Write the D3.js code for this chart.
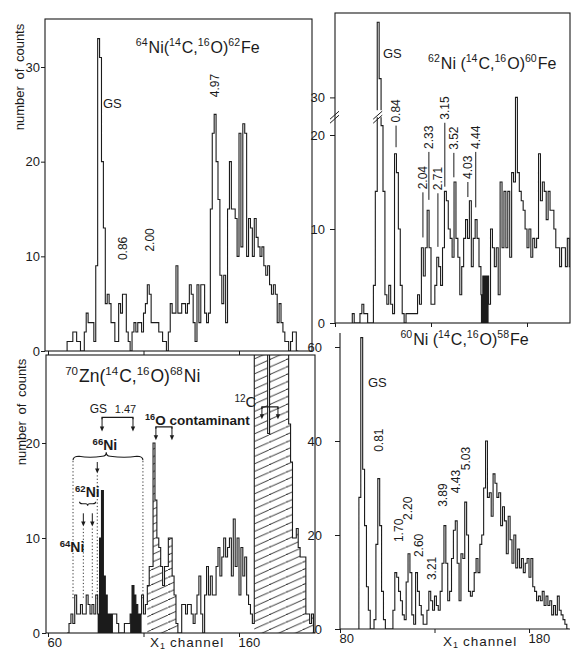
<!DOCTYPE html>
<html lang="en">
<head>
<meta charset="UTF-8">
<title>(14C,16O) spectra</title>
<script src="https://cdn.jsdelivr.net/npm/d3@7"></script>
<style>
  body { margin: 0; background: #fff; }
  svg { display: block; font-family: 'Liberation Sans', Arial, sans-serif; }
  .ink { stroke: #1b1b1b; fill: none; stroke-width: 1.1; }
  text { fill: #1b1b1b; }
  .tick text { font-size: 13px; }
  .tick line { stroke: #1b1b1b; }
</style>
</head>
<body>
<svg id="chart" width="571" height="651"></svg>
<script>
// ---- data: counts per channel ----
const tlStart = 70;
const tlCounts = [1,1,1,2,2,1,1,0,0,2, 4,3,3,3,1,9,33,31,20,13, 5,6,5,3,3,1,1,5,4,6,
  6,2,1,0,2,3,2,3,3,2, 4,5,7,6,3,3,3,3,2,2, 1,1,0,2,5,4,4,9,4,4, 5,5,4,5,7,6,3,1,7,3,
  7,7,4,3,4,15,23,25,20,16, 8,5,8,3,15,20,15,15,14,10, 23,11,24,23,10,14,13,10,14,12,
  11,10,11,9,8,9,7,6,7,6, 3,5,3,2,1,1,0,1,2,2, 0];

const trStart = 89;
const trCounts = [1,0,0,0,1,2,1,1,0,0, 0,4,14,38,32,21,14,3,2,4, 2,1,18,16,10,4,1,0,1,1,
  1,1,1,1,3,2,8,5,8,12, 8,2,2,4,7,6,4,8,14,13, 10,9,7,15,9,7,3,6,9,11,
  9,13,6,9,11,9,6,3,5,5, 5,2,10,8,6,8,3,15,8,14, 8,14,7,16,15,30,16,14,13,12,
  10,8,10,7,9,8,9,18,13,15, 14,11,14,12,12,10,8,8,6,8, 8,6,9,6,8,5];
const trBlack = [[156, 159]];

const blStart = 70;
const blCounts = [0,1,2,1,4,2,2,3,2,2, 4,3,2,3,2,4,2,10,15,6, 4,2,2,2,2,2,1,0,0,0,
  1,1,1,2,5,4,3,2,2,4, 2,3,5,7,7,20,14,10,9,7, 5,7,7,10,10,6,4,1,0,0,
  3,3,2,3,3,2,1,2,4,6, 2,0,4,7,4,6,4,4,7,9, 6,8,10,8,9,10,6,12,7,10,
  4,9,6,8,4,3,2,1,32,34, 36,38,36,38,36,21,36,38,40,38, 36,38,36,34,33,31,22,18,10,10,
  11,9,8,8,8,2,2,1,2,0];
const blBlack = [[86, 93], [103, 108]];
const blHatch = [[112, 127], [168, 198]];

const brStart = 90;
const brCounts = [28,62,34,22,9,4,0,0,2,18, 32,22,8,2,0,0,0,0,4,12, 11,8,6,3,2,10,16,12,3,1,
  12,8,5,3,1,1,4,8,6,4, 7,5,4,8,14,22,14,6,8,15, 21,23,14,6,16,15,27,20,8,7,
  8,12,15,12,18,20,30,40,28,29, 24,33,31,28,29,22,26,23,16,24, 19,14,20,13,17,13,15,12,14,15,
  11,15,9,8,6,7,6,8,5,7, 5,6,3,5,3,7,4,3,2,1, 0];

// titles: [superscript, text]
const tlTitle = [["64", "Ni("], ["14", "C,"], ["16", "O)"], ["62", "Fe"]];
const trTitle = [["62", "Ni ("], ["14", "C,"], ["16", "O)"], ["60", "Fe"]];
const blTitle = [["70", "Zn("], ["14", "C,"], ["16", "O)"], ["68", "Ni"]];
const brTitle = [["60", "Ni ("], ["14", "C,"], ["16", "O)"], ["58", "Fe"]];

// excitation-energy labels: [text, channel, count]
const tlLevels = [["0.86", 99.3, 9.6], ["2.00", 113.4, 10.5], ["4.97", 147.4, 26.8]];
const trLevels = [["0.84", 111.8, 18.7, 21.0], ["2.04", 125.8, 9.1, 13.9], ["2.33", 128.9, 13.1, 18.2],
  ["2.71", 133.6, 8.1, 13.8], ["3.15", 137.2, 14.5, 21.3], ["3.52", 141.9, 15.5, 18.1],
  ["4.03", 149.2, 13.4, 15.0], ["4.44", 153.3, 12.3, 18.2]];
const brLevels = [["0.81", 100.6, 37.7], ["1.70", 111.2, 18.5], ["2.20", 115.7, 23.2], ["2.60", 121.8, 15.3],
  ["3.21", 128.4, 10.4], ["3.89", 134.2, 26], ["4.43", 141.4, 28.9], ["5.03", 146.7, 33.8]];

const svg = d3.select("#chart");
const defs = svg.append("defs");
const ink = "#1b1b1b";

// shallow "/" hatching, about 24 degrees, 7.5px apart vertically
const hw = 16.8, hh = 7.5;
const hatch = defs.append("pattern").attr("id", "hatch")
  .attr("patternUnits", "userSpaceOnUse").attr("width", hw).attr("height", hh);
hatch.append("path")
  .attr("d", `M-2,${hh + 2 * hh / hw}L${hw + 2},${-2 * hh / hw}M${-hw - 2},${hh + (hw + 2) * hh / hw}L2,${-hh * -1 - 2 * hh / hw}`)
  .attr("stroke", ink).attr("stroke-width", 0.9);

function makePanel(id, box, x, y) {
  defs.append("clipPath").attr("id", "clip-" + id).append("rect")
    .attr("x", box[0]).attr("y", box[1]).attr("width", box[2] - box[0]).attr("height", box[3] - box[1]);
  const g = svg.append("g");
  return { g, x, y, box, clip: g.append("g").attr("clip-path", `url(#clip-${id})`) };
}

function points(start, counts, from, to) {
  const pts = [];
  for (let c = from; c <= to; c++) pts.push({ c, v: counts[c - start] });
  pts.push({ c: to + 1, v: counts[to - start] });
  return pts;
}

function drawHist(p, start, counts, black, hatched) {
  const area = d3.area().x(d => p.x(d.c)).y0(p.y(0)).y1(d => p.y(d.v)).curve(d3.curveStepAfter);
  (hatched || []).forEach(r => {
    p.clip.append("path").attr("d", area(points(start, counts, r[0], r[1]))).attr("fill", "url(#hatch)");
  });
  (black || []).forEach(r => {
    p.clip.append("path").attr("d", area(points(start, counts, r[0], r[1]))).attr("fill", ink);
  });
  const end = start + counts.length;
  const pts = [{ c: start, v: 0 }].concat(counts.map((v, i) => ({ c: start + i, v })),
    [{ c: end, v: counts[counts.length - 1] }, { c: end, v: 0 }]);
  const line = d3.line().x(d => p.x(d.c)).y(d => p.y(d.v)).curve(d3.curveStepAfter);
  p.clip.append("path").attr("class", "ink").attr("d", line(pts));
}

function yAxis(p, ticks, size, pad) {
  const a = p.g.append("g").attr("transform", `translate(${p.box[0]},0)`)
    .call(d3.axisLeft(p.y).tickValues(ticks).tickSize(size).tickPadding(pad).tickFormat(d3.format("d")));
  a.select(".domain").remove();
}

function xAxis(p, ticks, labels) {
  const a = p.g.append("g").attr("transform", `translate(0,${p.y(0)})`)
    .call(d3.axisBottom(p.x).tickValues(ticks).tickSize(4).tickPadding(1)
      .tickFormat(d => labels.includes(d) ? d : ""));
  a.select(".domain").remove();
  a.selectAll("text").attr("text-anchor", "start").attr("dx", -1).style("font-size", "13px");
}

function title(p, c, v, parts, size) {
  const t = p.g.append("text").attr("x", p.x(c)).attr("y", p.y(v)).style("font-size", size + "px");
  parts.forEach(([sup, txt]) => {
    t.append("tspan").attr("dy", -size * 0.42).style("font-size", (size * 0.66) + "px").text(sup);
    t.append("tspan").attr("dy", size * 0.42).attr("dx", 1).text(txt);
  });
}

function rotLabel(p, txt, c, v, size) {
  p.g.append("text").attr("transform", `translate(${p.x(c)},${p.y(v)}) rotate(-90)`)
    .attr("dy", "0.36em").style("font-size", (size || 12) + "px").text(txt);
}

function plain(p, txt, c, v, size, anchor) {
  return p.g.append("text").attr("x", p.x(c)).attr("y", p.y(v)).attr("text-anchor", anchor || "start")
    .style("font-size", (size || 13) + "px").text(txt);
}

function supText(p, sup, txt, c, v, size, anchor) {
  const t = plain(p, "", c, v, size, anchor).style("font-weight", "bold");
  t.append("tspan").attr("dy", -5).style("font-size", (size * 0.68) + "px").text(sup);
  t.append("tspan").attr("dy", 5).text(txt);
  return t;
}

function arrow(p, c, v1, v2) {
  const x = p.x(c), y1 = p.y(v1), y2 = p.y(v2);
  p.g.append("line").attr("x1", x).attr("x2", x).attr("y1", y1).attr("y2", y2 - 3)
    .attr("stroke", ink).attr("stroke-width", 1);
  p.g.append("path").attr("d", `M${x - 2.2},${y2 - 5}L${x + 2.2},${y2 - 5}L${x},${y2}Z`).attr("fill", ink);
}

function bracket(p, c0, c1, top, tip, w) {
  p.g.append("path").attr("class", "ink").attr("stroke-width", w || 1)
    .attr("d", `M${p.x(c0)},${p.y(top) + 2}V${p.y(top)}H${p.x(c1)}V${p.y(top) + 2}`);
  arrow(p, c0, top, tip);
  arrow(p, c1, top, tip);
}

function channelLabel(p, c, v) {
  const t = plain(p, "X", c, v, 13.5).style("letter-spacing", "1px");
  t.append("tspan").attr("dy", 2).style("font-size", "9px").text("1");
  t.append("tspan").attr("dy", -2).attr("dx", 4).text("channel");
}

function countsLabel(x, yMid) {
  svg.append("text").attr("transform", `translate(${x},${yMid}) rotate(-90)`)
    .attr("text-anchor", "middle").attr("dy", "0.35em").style("font-size", "13px")
    .style("word-spacing", "3px").text("number of counts");
}

// ---- top left: 64Ni(14C,16O)62Fe ----
const tl = makePanel("tl", [45, 19, 312, 351],
  d3.scaleLinear().domain([60, 160]).range([48, 239]),
  d3.scaleLinear().domain([0, 30]).range([351, 67]));
drawHist(tl, tlStart, tlCounts);
tl.g.append("rect").attr("class", "ink").attr("stroke-width", 1.3)
  .attr("x", 45).attr("y", 19).attr("width", 267).attr("height", 332);
yAxis(tl, [0, 10, 20, 30], 4, 1);
xAxis(tl, [60, 110, 160], []);
title(tl, 106, 31.5, tlTitle, 16);
plain(tl, "GS", 88.8, 25.7, 13);
tlLevels.forEach(d => rotLabel(tl, d[0], d[1], d[2]));
countsLabel(19, 77);

// ---- top right: 62Ni(14C,16O)60Fe, broken y axis ----
const tr = makePanel("tr", [335, 13, 570, 323],
  d3.scaleLinear().domain([80, 180]).range([335, 527]),
  d3.scaleLinear().domain([0, 22, 28, 40]).range([323, 116.2, 116.2, 3.4]));
drawHist(tr, trStart, trCounts, trBlack);
tr.g.append("rect").attr("class", "ink").attr("stroke-width", 1.3)
  .attr("x", 335).attr("y", 13).attr("width", 235).attr("height", 310);
yAxis(tr, [0, 10, 20, 30], 5, 5);
xAxis(tr, [80, 130, 180], []);
// break marks on the axis and on the GS peak
const by = tr.y(22);
tr.g.append("rect").attr("x", tr.x(100.2)).attr("y", by - 6).attr("width", tr.x(104.5) - tr.x(100.2))
  .attr("height", 7).attr("fill", "#fff");
[tr.x(80), tr.x(102.5)].forEach(x0 => {
  [-2, 2].forEach(o => {
    tr.g.append("line").attr("x1", x0 - 5).attr("y1", by + 5 + o).attr("x2", x0 + 4).attr("y2", by - 3 + o)
      .attr("stroke", ink).attr("stroke-width", 1);
  });
});
title(tr, 128.5, 33, trTitle, 16);
plain(tr, "GS", 105, 34.2, 13);
trLevels.forEach(d => {
  tr.g.append("line").attr("x1", tr.x(d[1])).attr("x2", tr.x(d[1]))
    .attr("y1", tr.y(d[2])).attr("y2", tr.y(d[3])).attr("stroke", ink).attr("stroke-width", 1);
  tr.g.append("text").attr("transform", `translate(${tr.x(d[1])},${tr.y(d[3]) - 3}) rotate(-90)`)
    .attr("dy", "0.36em").style("font-size", "12px").text(d[0]);
});

// ---- bottom left: 70Zn(14C,16O)68Ni ----
const bl = makePanel("bl", [46, 355, 315, 633],
  d3.scaleLinear().domain([60, 160]).range([48, 239]),
  d3.scaleLinear().domain([0, 20]).range([633, 443]));
drawHist(bl, blStart, blCounts, blBlack, blHatch);
bl.g.append("rect").attr("class", "ink").attr("stroke-width", 1.3)
  .attr("x", 46).attr("y", 355).attr("width", 269).attr("height", 278);
yAxis(bl, [0, 10, 20], 4, 2);
xAxis(bl, [60, 110, 160], [60, 160]);
title(bl, 69, 26.4, blTitle, 17.5);
countsLabel(21, 412);
channelLabel(bl, 113.4, -1.45);

// 66Ni group
plain(bl, "GS", 86.4, 23.2, 12, "middle");
plain(bl, "1.47", 100.6, 23.2, 11, "middle");
bracket(bl, 88.3, 104.5, 22.7, 21.2);
supText(bl, "66", "Ni", 89.8, 19.3, 14, "middle");
const bx0 = bl.x(73.1), bx1 = bl.x(109.7), bxm = bl.x(90.5), byb = bl.y(18.6);
bl.g.append("path").attr("class", "ink").attr("stroke-width", 1)
  .attr("d", `M${bx0},${byb + 4}Q${bx0},${byb} ${bx0 + 6},${byb}` +
    `Q${(bx0 + bxm) / 2},${byb + 2} ${bxm - 4},${byb}Q${bxm},${byb} ${bxm},${byb - 4}` +
    `Q${bxm},${byb} ${bxm + 4},${byb}Q${(bxm + bx1) / 2},${byb + 2} ${bx1 - 6},${byb}Q${bx1},${byb} ${bx1},${byb + 4}`);
arrow(bl, 85.8, 18.0, 16.8);
const dots = [[73.1, 18.1, 3.5], [109.7, 18.1, 3.5], [85.8, 16.6, 3.5], [78.5, 11.0, 3.5], [83.2, 11.0, 3.5]];
dots.forEach(d => {
  bl.g.append("line").attr("x1", bl.x(d[0])).attr("x2", bl.x(d[0])).attr("y1", bl.y(d[1])).attr("y2", bl.y(d[2]))
    .attr("stroke", ink).attr("stroke-width", 0.9).attr("stroke-dasharray", "1.2,2.2");
});
// 62Ni / 64Ni
supText(bl, "62", "Ni", 80.6, 14.3, 14, "middle");
const sx0 = bl.x(76.5), sx1 = bl.x(85), sxm = (sx0 + sx1) / 2, sy = bl.y(13.6);
bl.g.append("path").attr("class", "ink").attr("stroke-width", 1)
  .attr("d", `M${sx0},${sy - 2}Q${sx0},${sy} ${sx0 + 3},${sy}L${sxm - 2},${sy}` +
    `Q${sxm},${sy} ${sxm},${sy + 2}Q${sxm},${sy} ${sxm + 2},${sy}L${sx1 - 3},${sy}Q${sx1},${sy} ${sx1},${sy - 2}`);
arrow(bl, 78.5, 12.6, 11.2);
arrow(bl, 83.2, 12.6, 11.2);
supText(bl, "64", "Ni", 72.6, 8.5, 14, "middle");
// 16O contaminant
supText(bl, "16", "O contaminant", 110.8, 21.9, 13.5);
bracket(bl, 116.5, 124.9, 21.7, 20.3);
// 12C
const t12 = plain(bl, "", 157.6, 23.8, 15);
t12.append("tspan").attr("dy", -5).style("font-size", "10px").text("12");
t12.append("tspan").attr("dy", 5).text("C");
bracket(bl, 172, 180.4, 23.8, 22.5, 1.2);

// ---- bottom right: 60Ni(14C,16O)58Fe ----
const br = makePanel("br", [340, 300, 570, 629],
  d3.scaleLinear().domain([80, 180]).range([340, 529]),
  d3.scaleLinear().domain([0, 60]).range([629, 347]));
drawHist(br, brStart, brCounts);
br.g.append("path").attr("class", "ink").attr("stroke-width", 1.3)
  .attr("d", `M340,333V629H570`);
yAxis(br, [0, 20, 40, 60], 5, 13);
xAxis(br, [80, 130, 180], [80, 180]);
title(br, 112, 60.5, brTitle, 16);
plain(br, "GS", 94.8, 51.5, 13);
brLevels.forEach(d => rotLabel(br, d[0], d[1], d[2]));
channelLabel(br, 134.5, -3.6);
</script>
</body>
</html>
